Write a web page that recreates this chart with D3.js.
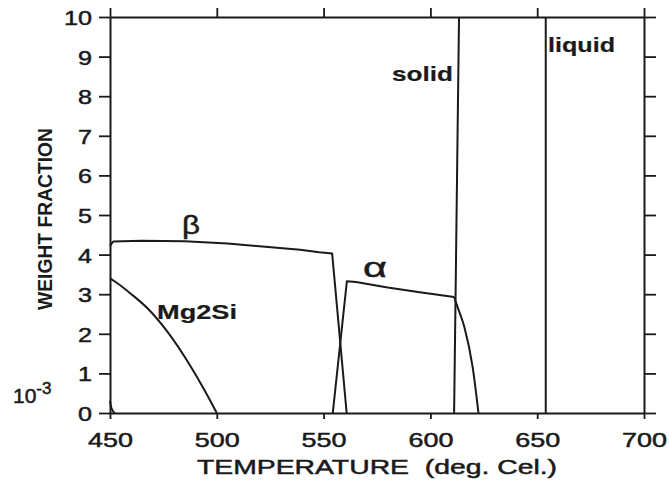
<!DOCTYPE html>
<html>
<head>
<meta charset="utf-8">
<script src="https://cdnjs.cloudflare.com/ajax/libs/d3/7.8.5/d3.min.js"></script>
<style>
  body { margin: 0; background: #fff; }
  text { font-family: "Liberation Sans", Arial, sans-serif; fill: #1a1a1a; white-space: pre; }
</style>
</head>
<body>
<div class="canvas"></div>
<script>
// values
const xTicks = [450, 500, 550, 600, 650, 700];
const yTicks = [0, 1, 2, 3, 4, 5, 6, 7, 8, 9, 10];

const betaTemp = [450, 451.5, 465, 485, 505, 520, 539, 548, 554, 560.8];
const betaFrac = [4.22, 4.33, 4.35, 4.34, 4.28, 4.21, 4.12, 4.06, 4.03, 0];

const mg2siTemp = [450, 452.3, 460, 468, 476.5, 487.5, 494, 500];
const mg2siFrac = [3.40, 3.32, 3.0, 2.62, 2.08, 1.2, 0.6, 0];

// alpha: rise and plateau up to the solid line, then the falling branch
const alphaTemp = [554.3, 560.9, 565.2, 580, 595, 611.1];
const alphaFrac = [0, 3.33, 3.31, 3.17, 3.05, 2.93];
const alphaFallTemp = [611.1, 612.7, 615.9, 619.8, 622.5];
const alphaFallFrac = [2.93, 2.68, 2.17, 1.15, 0];

const solidTemp = [611.1, 613.4];
const solidFrac = [0, 10];

const liquidTemp = [654, 654];
const liquidFrac = [0, 10];

const hookTemp = [450, 450.7, 452.3];
const hookFrac = [0.3, 0.12, 0];

const dims = { width: 669, height: 483 };
const m = { left: 110, right: 669 - 644, top: 17, bottom: 483 - 413 };

const svg = d3.select('.canvas')
  .append('svg')
  .attr('width', dims.width)
  .attr('height', dims.height);

const x = d3.scaleLinear().domain([450, 700]).range([m.left, dims.width - m.right]);
const y = d3.scaleLinear().domain([0, 10]).range([dims.height - m.bottom, m.top]);

const ink = '#1a1a1a';

// axes on four sides, ticks outward
const axBottom = svg.append('g')
  .attr('transform', `translate(0, ${y(0)})`)
  .call(d3.axisBottom(x).tickValues(xTicks).tickSize(6).tickSizeOuter(0).tickFormat(''));
const axTop = svg.append('g')
  .attr('transform', `translate(0, ${y(10)})`)
  .call(d3.axisTop(x).tickValues(xTicks).tickSize(9).tickSizeOuter(0).tickFormat(''));
const axLeft = svg.append('g')
  .attr('transform', `translate(${x(450)}, 0)`)
  .call(d3.axisLeft(y).tickValues(yTicks).tickSize(11).tickSizeOuter(0).tickFormat(''));
const axRight = svg.append('g')
  .attr('transform', `translate(${x(700)}, 0)`)
  .call(d3.axisRight(y).tickValues(yTicks).tickSize(12).tickSizeOuter(0).tickFormat(''));

svg.selectAll('.domain').attr('stroke', ink).attr('stroke-width', 2);
svg.selectAll('.tick line').attr('stroke', ink).attr('stroke-width', 1.8);

// tick labels
axBottom.selectAll('.tick').append('text')
  .attr('y', 34)
  .attr('text-anchor', 'middle')
  .attr('font-size', 21)
  .attr('stroke', ink).attr('stroke-width', 0.5)
  .attr('textLength', d => String(d).length * 15)
  .attr('lengthAdjust', 'spacingAndGlyphs')
  .text(d => d);

axLeft.selectAll('.tick').append('text')
  .attr('x', -18)
  .attr('dy', '0.36em')
  .attr('text-anchor', 'end')
  .attr('font-size', 21)
  .attr('stroke', ink).attr('stroke-width', 0.5)
  .attr('textLength', d => String(d).length * 14)
  .attr('lengthAdjust', 'spacingAndGlyphs')
  .text(d => d);

// curves
const series = [
  { t: betaTemp, f: betaFrac },
  { t: mg2siTemp, f: mg2siFrac, curve: d3.curveMonotoneX },
  { t: alphaTemp, f: alphaFrac },
  { t: alphaFallTemp, f: alphaFallFrac, curve: d3.curveMonotoneX },
  { t: solidTemp, f: solidFrac },
  { t: liquidTemp, f: liquidFrac },
  { t: hookTemp, f: hookFrac, curve: d3.curveMonotoneX }
];

series.forEach(s => {
  const line = d3.line()
    .x(d => x(d[0]))
    .y(d => y(d[1]))
    .curve(s.curve || d3.curveLinear);
  svg.append('path')
    .datum(s.t.map((t, i) => [t, s.f[i]]))
    .attr('d', line)
    .attr('fill', 'none')
    .attr('stroke', ink)
    .attr('stroke-width', 2)
    .attr('stroke-linejoin', 'round');
});

// labels in the plot
const label = (txt, px, py, size, len, bold) => svg.append('text')
  .attr('x', px).attr('y', py)
  .attr('font-size', size)
  .attr('font-weight', bold ? 'bold' : 'normal')
  .attr('stroke', ink).attr('stroke-width', bold ? 0.2 : 0.5)
  .attr('textLength', len)
  .attr('lengthAdjust', 'spacingAndGlyphs')
  .text(txt);

label('β', 182, 234, 26, 18, false);
label('α', 363, 277, 28, 24, false);
label('Mg2Si', 157, 319, 21, 80, true);
label('solid', 392, 81, 21, 61, true);
label('liquid', 548, 52, 21, 67, true);

// axis titles
label('TEMPERATURE  (deg. Cel.)', 197, 474, 21, 360, false);

svg.append('text')
  .attr('transform', 'translate(52, 219) rotate(-90)')
  .attr('text-anchor', 'middle')
  .attr('font-size', 21)
  .attr('font-weight', 'bold')
  .attr('textLength', 182)
  .attr('lengthAdjust', 'spacingAndGlyphs')
  .text('WEIGHT FRACTION');

const exp = svg.append('text')
  .attr('x', 13).attr('y', 403)
  .attr('font-size', 21)
  .attr('stroke', ink).attr('stroke-width', 0.5);
exp.append('tspan').text('10');
exp.append('tspan').attr('font-size', 17).attr('dy', -9).text('-3');
</script>
</body>
</html>
